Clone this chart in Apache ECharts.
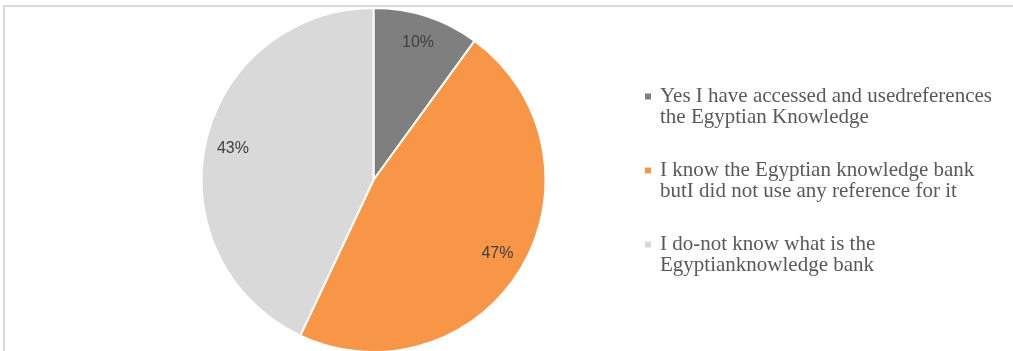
<!DOCTYPE html>
<html>
<head>
<meta charset="utf-8">
<script src="https://cdn.jsdelivr.net/npm/echarts@6/dist/echarts.min.js"></script>
<style>
html,body{margin:0;padding:0;background:#fff;}
#frame{position:absolute;left:3px;top:5px;width:1010px;height:346px;border-top:2px solid #d9d9d9;border-left:2px solid #d9d9d9;box-sizing:border-box;}
#chart{position:absolute;left:0;top:0;width:1013px;height:351px;}
</style>
</head>
<body>
<div id="frame"></div>
<div id="chart"></div>
<script>
const categories = [
  'Yes I have accessed and usedreferences\nthe Egyptian Knowledge',
  'I know the Egyptian knowledge bank\nbutI did not use any reference for it',
  'I do-not know what is the\nEgyptianknowledge bank'
];
const values = [10, 47, 43];
const colors = ['#7f7f7f', '#f79646', '#d9d9d9'];

const data = categories.map((c, i) => ({ name: c, value: values[i], itemStyle: { color: colors[i] } }));
const labelData = categories.map((c, i) => ({ name: c, value: values[i] }));

const chart = echarts.init(document.getElementById('chart'));
chart.setOption({
  backgroundColor: 'transparent',
  animation: false,
  legend: {
    orient: 'vertical',
    left: 645,
    top: 65,
    padding: 0,
    itemGap: 11,
    itemWidth: 6,
    itemHeight: 6,
    icon: 'rect',
    data: categories,
    selectedMode: false,
    itemStyle: { borderWidth: 0 },
    formatter: name => '\n' + name,
    textStyle: {
      fontFamily: 'Liberation Serif',
      fontSize: 21,
      color: '#595959',
      lineHeight: 21,
      padding: [0, 0, 0, 4]
    }
  },
  series: [
    {
      type: 'pie',
      center: [373.5, 180],
      radius: [0, 172],
      startAngle: 90,
      clockwise: true,
      silent: true,
      label: { show: false },
      labelLine: { show: false },
      itemStyle: { borderColor: '#ffffff', borderWidth: 2 },
      data: data
    },
    {
      type: 'pie',
      center: [373.5, 180],
      radius: [110, 172],
      startAngle: 90,
      clockwise: true,
      silent: true,
      legendHoverLink: false,
      itemStyle: { color: 'rgba(0,0,0,0)', borderWidth: 0 },
      label: {
        show: true,
        position: 'inside',
        formatter: p => p.value + '%',
        fontFamily: 'Liberation Sans',
        fontSize: 16,
        color: '#404040'
      },
      labelLine: { show: false },
      data: labelData
    }
  ]
});
</script>
</body>
</html>
